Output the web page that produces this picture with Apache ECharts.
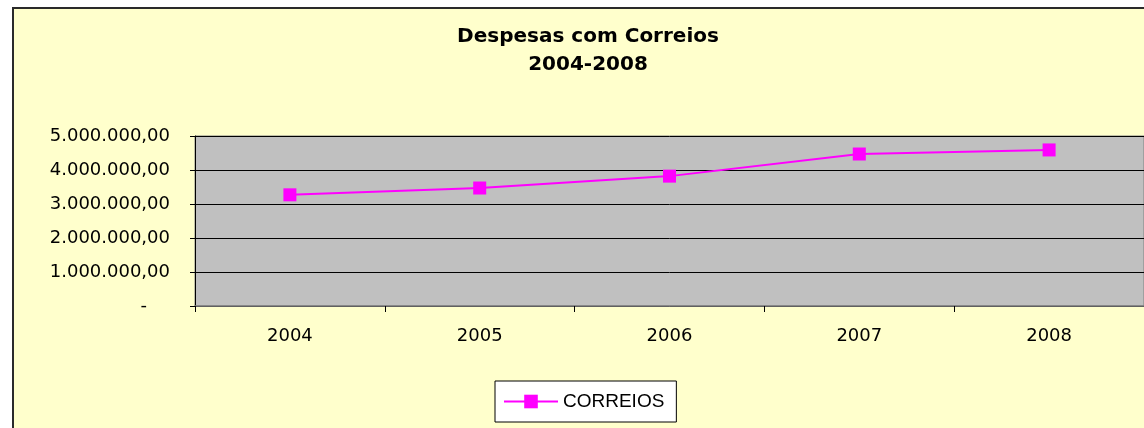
<!DOCTYPE html>
<html lang="pt">
<head>
    <meta charset="UTF-8">
    <title>Despesas com Correios 2004-2008</title>
    <script src="https://cdn.jsdelivr.net/npm/echarts@6/dist/echarts.min.js"></script>
    <style>
        html, body { margin: 0; padding: 0; background: #fff; }
        .frame {
            position: absolute;
            left: 12px;
            top: 7px;
            width: 1200px;
            height: 500px;
            background: #FFFFCC;
            border: 2px solid #2a2a2a;
        }
        #map {
            position: absolute;
            left: 0;
            top: 0;
            width: 1144px;
            height: 428px;
            overflow: hidden;
        }
    </style>
</head>
<body>
<div class="frame"></div>
<div id="map"></div>
<script>
    var years = ['2004', '2005', '2006', '2007', '2008'];
    var correios = [3270000, 3470000, 3820000, 4470000, 4590000];
    var seriesName = 'CORREIOS';
    var titleLines = ['Despesas com Correios', '2004-2008'];

    // 1.000.000,00 style, zero shown as a dash
    function moneyFormat(v) {
        if (v === 0) return '-\u00a0\u00a0\u00a0\u00a0';
        return String(v).replace(/\B(?=(\d{3})+(?!\d))/g, '.') + ',00';
    }

    var map = echarts.init(document.getElementById('map'));
    var font = 'DejaVu Sans';

    map.setOption({
        backgroundColor: 'transparent',
        animation: false,
        graphic: [
            {
                type: 'text', x: 588, y: 37,
                style: {
                    text: titleLines[0], align: 'center', verticalAlign: 'middle',
                    font: 'bold 20px "DejaVu Sans"', fill: '#000'
                }
            },
            {
                type: 'text', x: 588, y: 65,
                style: {
                    text: titleLines[1], align: 'center', verticalAlign: 'middle',
                    font: 'bold 20px "DejaVu Sans"', fill: '#000'
                }
            }
        ],
        legend: {
            data: [seriesName],
            left: 495,
            top: 381,
            padding: [11, 12, 11, 8],
            backgroundColor: '#fff',
            borderColor: '#000',
            borderWidth: 1,
            itemWidth: 54,
            itemHeight: 17,
            itemStyle: { borderWidth: 0 },
            textStyle: {
                fontFamily: 'Liberation Sans',
                fontSize: 19,
                color: '#000'
            }
        },
        grid: {
            left: 195,
            top: 136,
            width: 950,
            height: 170,
            show: true,
            backgroundColor: '#C0C0C0',
            borderColor: '#808080',
            borderWidth: 1
        },
        xAxis: {
            type: 'category',
            data: years,
            boundaryGap: true,
            axisLine: { lineStyle: { color: '#808080', width: 1.5 } },
            axisTick: { show: true, length: 6, lineStyle: { color: '#000' } },
            axisLabel: { margin: 21, fontFamily: font, fontSize: 18, color: '#000' }
        },
        yAxis: {
            type: 'value',
            min: 0,
            max: 5000000,
            interval: 1000000,
            axisLine: { show: true, lineStyle: { color: '#000', width: 1 } },
            axisTick: { show: true, length: 5, lineStyle: { color: '#000' } },
            axisLabel: {
                margin: 25,
                fontFamily: font,
                fontSize: 18,
                color: '#000',
                formatter: moneyFormat
            },
            splitLine: { show: true, lineStyle: { color: '#000', width: 1 } }
        },
        series: [{
            name: seriesName,
            type: 'line',
            data: correios,
            symbol: 'rect',
            symbolSize: 13,
            color: '#FF00FF',
            lineStyle: { width: 2, color: '#FF00FF' },
            itemStyle: { color: '#FF00FF' }
        }]
    });
</script>
</body>
</html>
